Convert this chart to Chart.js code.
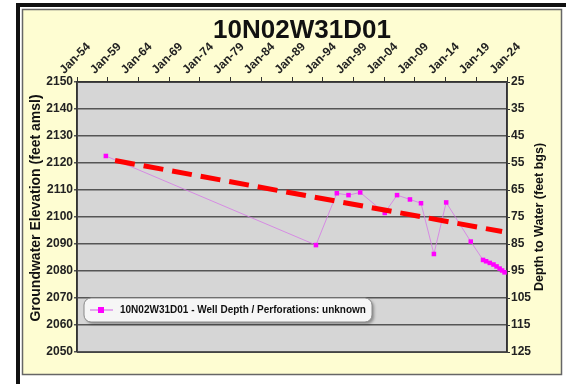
<!DOCTYPE html>
<html>
<head>
<meta charset="utf-8">
<script src="https://cdn.jsdelivr.net/npm/chart.js@4/dist/chart.umd.min.js"></script>
<style>
  html, body { margin: 0; padding: 0; background: #fff; }
  canvas { display: block; }
</style>
</head>
<body>
<canvas id="chart" width="569" height="384"></canvas>
<script>
// well name and labels
const wellName = '10N02W31D01';
const seriesLabel = '10N02W31D01 - Well Depth / Perforations: unknown';
const leftTitle = 'Groundwater Elevation (feet amsl)';
const rightTitle = 'Depth to Water (feet bgs)';

// measurement dates (decimal years) and groundwater elevations (feet amsl)
const years = [1958.7, 1992.9, 1996.3, 1998.2, 2000.1, 2004.1, 2006.1, 2008.2, 2010.0, 2012.1,
  2014.1, 2018.1, 2020.1, 2020.6, 2021.2, 2021.8, 2022.3, 2022.8, 2023.2, 2023.6];
const elevations = [2122.6, 2089.6, 2108.8, 2108.1, 2109.1, 2101.5, 2108.1, 2106.5, 2105.1, 2086.3,
  2105.4, 2090.9, 2084.1, 2083.6, 2083.0, 2082.4, 2081.7, 2080.9, 2080.2, 2079.5];

// red dashed trend line end points
const trendYears = [1960.2, 2023.2];
const trendElevations = [2120.9, 2094.6];

// axis ranges
const yearMin = 1954, yearMax = 2024, yearStep = 5;
const elevMin = 2050, elevMax = 2150, elevStep = 10;
const depthMin = 25, depthMax = 125;

const FONT = 'Liberation Sans, Arial, sans-serif';

// frame, panel and plot area background
const backdrop = {
  id: 'backdrop',
  beforeDraw(chart) {
    const ctx = chart.ctx;
    const a = chart.chartArea;
    ctx.save();
    ctx.fillStyle = '#ffffff';
    ctx.fillRect(0, 0, chart.width, chart.height);
    // black outer frame
    ctx.fillStyle = '#111';
    ctx.fillRect(16, 3, 550, 4);
    ctx.fillRect(16, 3, 4, 381);
    // yellow panel
    ctx.fillStyle = '#fefdd2';
    ctx.fillRect(22, 9, 540, 366);
    ctx.strokeStyle = '#666';
    ctx.lineWidth = 1.5;
    ctx.strokeRect(22.5, 9.5, 539, 365);
    // plot background
    ctx.fillStyle = '#d6d6d6';
    ctx.fillRect(a.left, a.top, a.right - a.left, a.bottom - a.top);
    ctx.restore();
  },
  afterDraw(chart) {
    const ctx = chart.ctx;
    const a = chart.chartArea;
    ctx.save();
    ctx.strokeStyle = '#444';
    ctx.lineWidth = 1;
    ctx.strokeRect(a.left + 0.5, a.top + 0.5, a.right - a.left, a.bottom - a.top);
    // title
    ctx.fillStyle = '#111';
    ctx.font = 'bold 26px ' + FONT;
    ctx.textAlign = 'center';
    ctx.textBaseline = 'middle';
    ctx.fillText(wellName, 302, 31);
    // axis titles, both reading bottom to top
    ctx.font = 'bold 14px ' + FONT;
    ctx.translate(36, 208);
    ctx.rotate(-Math.PI / 2);
    ctx.fillText(leftTitle, 0, 0);
    ctx.setTransform(1, 0, 0, 1, 0, 0);
    ctx.font = 'bold 12.5px ' + FONT;
    ctx.translate(540, 217);
    ctx.rotate(-Math.PI / 2);
    ctx.fillText(rightTitle, 0, 0);
    ctx.restore();
  }
};

// legend box sitting inside the plot
const boxLegend = {
  id: 'boxLegend',
  afterDatasetsDraw(chart) {
    const ctx = chart.ctx;
    const ds = chart.data.datasets[0];
    const x = 84, y = 298, w = 288, h = 24, r = 7;
    ctx.save();
    ctx.shadowColor = 'rgba(0,0,0,0.35)';
    ctx.shadowOffsetX = 2;
    ctx.shadowOffsetY = 2;
    ctx.shadowBlur = 3;
    ctx.fillStyle = '#f6f6f6';
    ctx.beginPath();
    ctx.roundRect(x, y, w, h, r);
    ctx.fill();
    ctx.shadowColor = 'transparent';
    ctx.strokeStyle = '#8a8a8a';
    ctx.lineWidth = 1;
    ctx.stroke();
    // marker
    ctx.strokeStyle = ds.borderColor;
    ctx.lineWidth = 1.5;
    ctx.beginPath();
    ctx.moveTo(90, y + h / 2);
    ctx.lineTo(113, y + h / 2);
    ctx.stroke();
    ctx.fillStyle = ds.pointBackgroundColor;
    ctx.fillRect(98, y + h / 2 - 3, 6, 6);
    // text
    ctx.fillStyle = '#111';
    ctx.font = 'bold 10px ' + FONT;
    ctx.textAlign = 'left';
    ctx.textBaseline = 'middle';
    ctx.fillText(ds.label, 120, y + h / 2);
    ctx.restore();
  }
};

const points = years.map((yr, i) => ({ x: yr, y: elevations[i] }));
const trend = trendYears.map((yr, i) => ({ x: yr, y: trendElevations[i] }));

const tickFont = { family: FONT, size: 12, weight: 'bold' };

new Chart(document.getElementById('chart'), {
  type: 'line',
  data: {
    datasets: [
      {
        label: seriesLabel,
        data: points,
        borderColor: 'rgba(214,120,230,0.8)',
        borderWidth: 1,
        pointStyle: 'rect',
        pointRadius: 3.2,
        pointBackgroundColor: '#ff00ff',
        pointBorderColor: '#ff00ff',
        pointBorderWidth: 0,
        tension: 0,
        order: 2
      },
      {
        label: 'trend',
        data: trend,
        borderColor: '#ff0000',
        borderWidth: 5,
        borderDash: [20, 9],
        pointRadius: 0,
        tension: 0,
        order: 1
      }
    ]
  },
  options: {
    responsive: false,
    animation: false,
    devicePixelRatio: 1,
    layout: { padding: { left: 22, right: 9, top: 40, bottom: 32 } },
    plugins: {
      legend: { display: false },
      title: { display: false },
      tooltip: { enabled: false }
    },
    scales: {
      x: {
        type: 'linear',
        position: 'top',
        min: yearMin,
        max: yearMax,
        afterFit: s => { s.height = 42; },
        ticks: {
          stepSize: yearStep,
          minRotation: 45,
          maxRotation: 45,
          padding: 0,
          labelOffset: -5,
          color: '#222',
          font: { family: FONT, size: 12, weight: 'bold' },
          callback: v => 'Jan-' + String(v).slice(2)
        },
        grid: { drawOnChartArea: false, tickLength: 5, color: '#333', lineWidth: 1 },
        border: { color: '#333', width: 1.5 }
      },
      y: {
        position: 'left',
        min: elevMin,
        max: elevMax,
        afterFit: s => { s.width = 55; },
        ticks: { stepSize: elevStep, padding: 1, color: '#222', font: tickFont, callback: v => String(v) },
        grid: { color: '#555', lineWidth: 1.5, tickLength: 3 },
        border: { color: '#333', width: 1.5 }
      },
      y2: {
        position: 'right',
        min: depthMin,
        max: depthMax,
        reverse: true,
        afterFit: s => { s.width = 53; },
        ticks: { stepSize: elevStep, padding: 1, color: '#222', font: tickFont, callback: v => String(v) },
        grid: { drawOnChartArea: false, tickLength: 3, color: '#333' },
        border: { color: '#333', width: 1.5 }
      }
    }
  },
  plugins: [backdrop, boxLegend]
});
</script>
</body>
</html>
